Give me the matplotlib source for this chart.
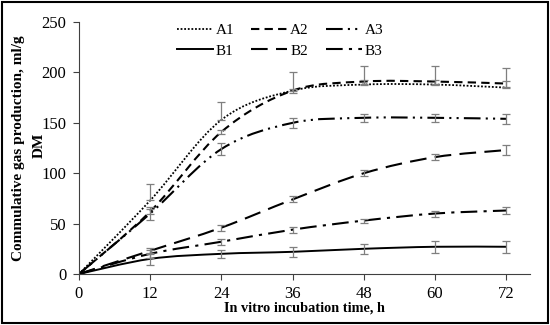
import numpy as np
import matplotlib.pyplot as plt
from matplotlib.path import Path
from matplotlib.patches import PathPatch, Rectangle
from matplotlib.lines import Line2D

plt.rcParams['font.family'] = ['Liberation Serif', 'DejaVu Serif']

hours = [0, 12, 24, 36, 48, 60, 72]

a1 = [0, 73, 153, 182, 188, 188, 185]
a2 = [0, 62, 141, 182, 191, 191, 189]
a3 = [0, 60, 124, 150, 155, 155, 154]
b1 = [0, 15, 20, 22, 25, 27, 27]
b2 = [0, 23, 46, 74, 100, 116, 123]
b3 = [0, 20, 32, 44, 53, 60, 63]

a1_err = [0, 16, 18, 18, 18, 18, 19]   # only upper bars drawn
a2_err = [0, 2, 2, 2, 2, 2, 3]
a3_err = [0, 6, 6, 5, 4, 4, 5]
b1_err = [0, 6, 4, 5, 5, 6, 6]
b2_err = [0, 3, 3, 3, 3, 3, 5]
b3_err = [0, 4, 3, 3, 2, 3, 3]

names = ['A1', 'A2', 'A3', 'B1', 'B2', 'B3']


def smooth_path(x, y):
    # Excel-like smoothed line: Catmull-Rom segments as cubic Bezier curves
    x = np.asarray(x, float)
    y = np.asarray(y, float)
    verts = [(x[0], y[0])]
    codes = [Path.MOVETO]
    n = len(x)
    for i in range(n - 1):
        p0 = (x[max(i - 1, 0)], y[max(i - 1, 0)])
        p1 = (x[i], y[i])
        p2 = (x[i + 1], y[i + 1])
        p3 = (x[min(i + 2, n - 1)], y[min(i + 2, n - 1)])
        c1 = (p1[0] + (p2[0] - p0[0]) / 6, p1[1] + (p2[1] - p0[1]) / 6)
        c2 = (p2[0] - (p3[0] - p1[0]) / 6, p2[1] - (p3[1] - p1[1]) / 6)
        verts += [c1, c2, p2]
        codes += [Path.CURVE4] * 3
    return Path(verts, codes)


fig = plt.figure(figsize=(5.5, 3.25), dpi=100)
fig.patches.append(Rectangle((0.004, 0.006), 0.992, 0.988, transform=fig.transFigure,
                             fill=False, edgecolor='black', linewidth=1.5))
ax = fig.add_axes([0.1436, 0.157, 0.82, 0.775])

styles = {
    'A1': dict(linestyle=(0, (1, 1)), linewidth=1.3),
    'A2': dict(linestyle=(0, (4, 2.5)), linewidth=1.5),
    'A3': dict(linestyle=(0, (8, 2.5, 1, 2.5, 1, 2.5)), linewidth=1.5),
    'B1': dict(linestyle='-', linewidth=1.4),
    'B2': dict(linestyle=(0, (8, 4)), linewidth=1.5),
    'B3': dict(linestyle=(0, (8, 3, 1.5, 3)), linewidth=1.5),
}
series = {'A1': (a1, a1_err), 'A2': (a2, a2_err), 'A3': (a3, a3_err),
          'B1': (b1, b1_err), 'B2': (b2, b2_err), 'B3': (b3, b3_err)}

for name in names:
    vals, err = series[name]
    ax.add_patch(PathPatch(smooth_path(hours, vals), fill=False, edgecolor='black',
                           **styles[name]))
    if name == 'A1':
        yerr = [np.zeros(len(err)), err]
    else:
        yerr = err
    ax.errorbar(hours[1:], vals[1:], yerr=np.asarray(yerr)[..., 1:], fmt='none',
                ecolor='#7f7f7f', elinewidth=0.9, capsize=3, capthick=0.9)

ax.set_xlim(0, 76)
ax.set_ylim(0, 250)
ax.set_xticks(hours)
ax.set_yticks(range(0, 251, 50))
for s in ['top', 'right']:
    ax.spines[s].set_visible(False)
for s in ['left', 'bottom']:
    ax.spines[s].set_color('#404040')
    ax.spines[s].set_linewidth(0.8)
ax.tick_params(labelsize=12, color='#404040', length=4, width=0.8, pad=5)
ax.tick_params(axis='x', direction='out')

ax.set_xlabel('In vitro incubation time, h', fontsize=10.3, fontweight='bold', labelpad=-1)
# y title: the second line sits between the tick labels, so it is placed on its own
ax.text(-0.135, 0.5, 'Commulative gas production, ml/g', transform=ax.transAxes,
        rotation=90, ha='center', va='center', fontsize=11, fontweight='bold')
ax.text(-0.088, 0.51, 'DM', transform=ax.transAxes,
        rotation=90, ha='center', va='center', fontsize=11, fontweight='bold')

# legend filled row by row: A1 A2 A3 / B1 B2 B3
order = [0, 3, 1, 4, 2, 5]
handles = [Line2D([], [], color='black', **styles[names[i]]) for i in order]
labels = [names[i] for i in order]
ax.legend(handles, labels, ncol=3, loc='upper left', bbox_to_anchor=(0.217, 0.995),
          frameon=False, fontsize=11, handlelength=2.35, handletextpad=0.2,
          columnspacing=1.1, labelspacing=0.45, borderpad=0, borderaxespad=0)

plt.savefig('out.png', dpi=100)
